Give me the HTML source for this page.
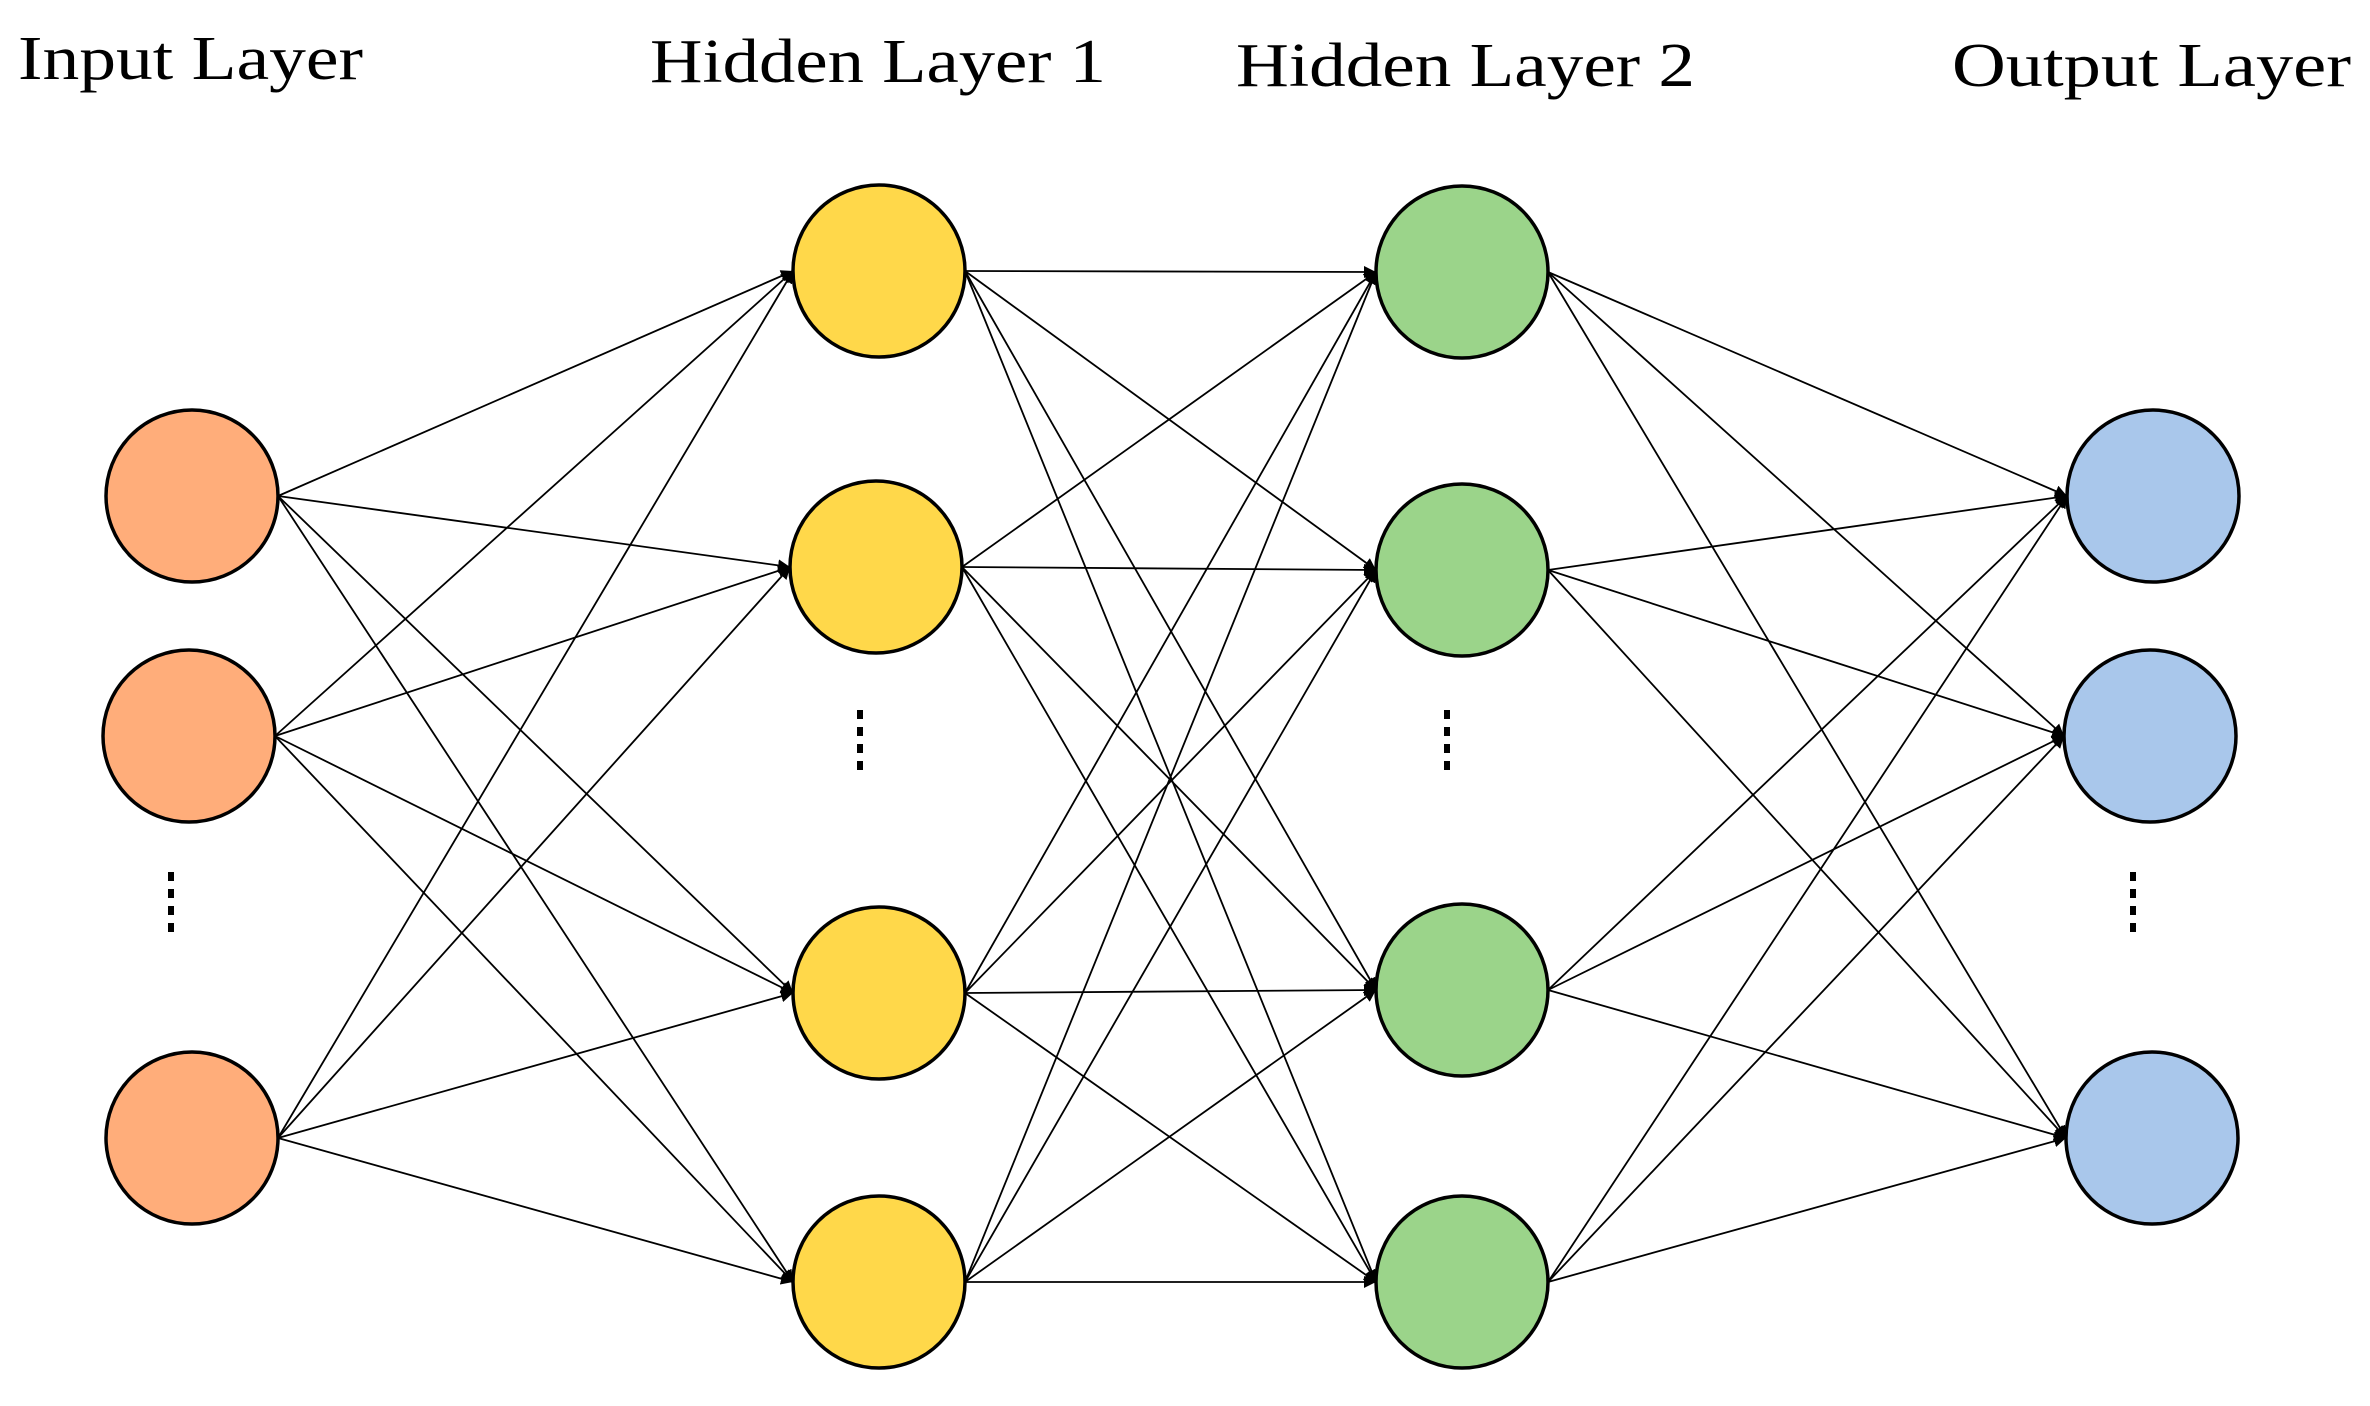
<!DOCTYPE html>
<html><head><meta charset="utf-8"><style>
html,body{margin:0;padding:0;background:#fff;}
svg{display:block;}
</style></head><body>
<svg width="2370" height="1406" viewBox="0 0 2370 1406" xmlns="http://www.w3.org/2000/svg">
<defs>
<marker id="a" viewBox="0 0 10 10" refX="10" refY="5" markerWidth="12" markerHeight="12" markerUnits="userSpaceOnUse" orient="auto">
<path d="M0,0 L10,5 L0,10 z" fill="#000"/>
</marker>
</defs>
<g font-family="'Liberation Serif', serif" font-size="62" fill="#000">
<text x="18" y="79" textLength="345" lengthAdjust="spacingAndGlyphs">Input Layer</text>
<text x="650" y="82" textLength="456" lengthAdjust="spacingAndGlyphs">Hidden Layer 1</text>
<text x="1236" y="86" textLength="459" lengthAdjust="spacingAndGlyphs">Hidden Layer 2</text>
<text x="1952" y="86" textLength="399" lengthAdjust="spacingAndGlyphs">Output Layer</text>
</g>
<g id="edges" stroke="#000" stroke-width="1.8" fill="none"></g>
<g id="nodes" stroke="#000" stroke-width="3.5"></g>
<g fill="#000">
<rect x="168" y="872" width="6" height="9"/><rect x="168" y="889" width="6" height="9"/><rect x="168" y="906" width="6" height="9"/><rect x="168" y="923" width="6" height="9"/>
<rect x="857" y="710" width="6" height="9"/><rect x="857" y="727" width="6" height="9"/><rect x="857" y="744" width="6" height="9"/><rect x="857" y="761" width="6" height="9"/>
<rect x="1444" y="710" width="6" height="9"/><rect x="1444" y="727" width="6" height="9"/><rect x="1444" y="744" width="6" height="9"/><rect x="1444" y="761" width="6" height="9"/>
<rect x="2130" y="872" width="6" height="9"/><rect x="2130" y="889" width="6" height="9"/><rect x="2130" y="906" width="6" height="9"/><rect x="2130" y="923" width="6" height="9"/>
</g>
<script>
(function(){
var NS="http://www.w3.org/2000/svg",r=86;
var L=[
 {c:"#FFAD7A",n:[[192,496],[189,736],[192,1138]]},
 {c:"#FFD84A",n:[[879,271],[876,567],[879,993],[879,1282]]},
 {c:"#9BD48A",n:[[1462,272],[1462,570],[1462,990],[1462,1282]]},
 {c:"#A9C7EB",n:[[2153,496],[2150,736],[2152,1138]]}
];
var e=document.getElementById("edges"),g=document.getElementById("nodes");
for(var i=0;i<3;i++){L[i].n.forEach(function(s){L[i+1].n.forEach(function(t){
 var l=document.createElementNS(NS,"line");
 l.setAttribute("x1",s[0]+r);l.setAttribute("y1",s[1]);
 l.setAttribute("x2",t[0]-r);l.setAttribute("y2",t[1]);
 l.setAttribute("marker-end","url(#a)");e.appendChild(l);});});}
L.forEach(function(ly){ly.n.forEach(function(p){
 var c=document.createElementNS(NS,"circle");
 c.setAttribute("cx",p[0]);c.setAttribute("cy",p[1]);c.setAttribute("r",r);
 c.setAttribute("fill",ly.c);g.appendChild(c);});});
})();
</script>
</svg>
</body></html>
